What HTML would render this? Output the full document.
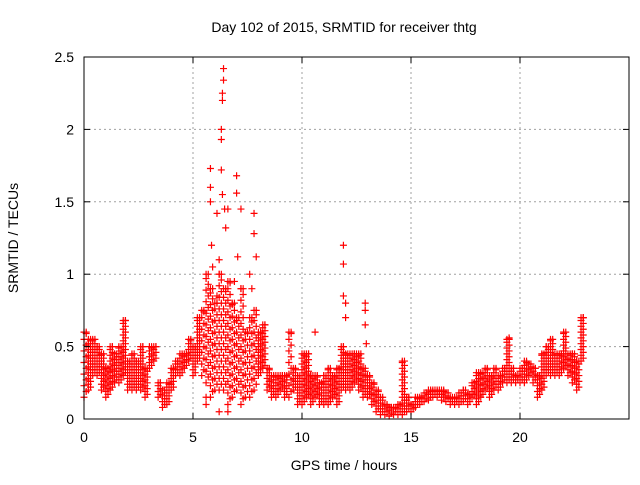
<!DOCTYPE html>
<html><head><meta charset="utf-8"><style>
body{margin:0;background:#fff}
svg{font-family:"Liberation Sans",sans-serif;font-size:14px}
</style></head><body>
<svg width="640" height="480" id="chart">
<text x="344" y="32" text-anchor="middle">Day 102 of 2015, SRMTID for receiver thtg</text>
<text x="344" y="470" text-anchor="middle">GPS time / hours</text>
<text transform="translate(18,238) rotate(-90)" text-anchor="middle">SRMTID / TECUs</text>
<g id="grid"></g><g id="marks"></g><g id="axes"></g>
</svg>
<script>
const times=[0,0.2,0.4,0.6,0.8,1.0,1.2,1.4,1.6,1.8,2.0,2.2,2.4,2.6,2.8,3.0,3.2,3.4,3.6,3.8,4.0,4.2,4.4,4.6,4.8,5.0,5.2,5.4,5.6,5.8,6.0,6.2,6.4,6.6,6.8,7.0,7.2,7.4,7.6,7.8,8.0,8.2,8.4,8.6,8.8,9.0,9.2,9.4,9.6,9.8,10.0,10.2,10.4,10.6,10.8,11.0,11.2,11.4,11.6,11.8,12.0,12.2,12.4,12.6,12.8,13.0,13.2,13.4,13.6,13.8,14.0,14.2,14.4,14.6,14.8,15.0,15.2,15.4,15.6,15.8,16.0,16.2,16.4,16.6,16.8,17.0,17.2,17.4,17.6,17.8,18.0,18.2,18.4,18.6,18.8,19.0,19.2,19.4,19.6,19.8,20.0,20.2,20.4,20.6,20.8,21.0,21.2,21.4,21.6,21.8,22.0,22.2,22.4,22.6,22.8];
const lowVals=[0.15,0.2,0.3,0.3,0.2,0.15,0.2,0.25,0.25,0.3,0.2,0.2,0.2,0.2,0.15,0.35,0.4,0.15,0.08,0.1,0.2,0.3,0.3,0.35,0.4,0.3,0.4,0.3,0.25,0.15,0.2,0.2,0.2,0.1,0.15,0.2,0.1,0.15,0.15,0.2,0.3,0.35,0.2,0.15,0.15,0.2,0.15,0.15,0.2,0.1,0.1,0.15,0.1,0.15,0.1,0.1,0.1,0.15,0.1,0.2,0.2,0.2,0.25,0.2,0.15,0.15,0.1,0.05,0.03,0.03,0.02,0.03,0.03,0.03,0.05,0.05,0.08,0.1,0.12,0.13,0.15,0.15,0.13,0.12,0.1,0.1,0.1,0.12,0.1,0.15,0.1,0.15,0.2,0.15,0.2,0.2,0.25,0.25,0.25,0.25,0.25,0.25,0.3,0.25,0.15,0.2,0.3,0.3,0.3,0.3,0.35,0.3,0.25,0.2,0.4];
const highVals=[0.6,0.55,0.55,0.5,0.45,0.35,0.5,0.45,0.5,0.68,0.4,0.45,0.4,0.5,0.35,0.5,0.5,0.25,0.2,0.25,0.35,0.4,0.45,0.45,0.55,0.5,0.7,0.75,1.0,0.9,0.8,1.0,0.9,0.95,0.8,0.7,0.9,0.6,0.7,0.75,0.6,0.65,0.35,0.3,0.3,0.3,0.3,0.6,0.35,0.3,0.45,0.45,0.3,0.3,0.25,0.3,0.35,0.3,0.35,0.5,0.45,0.45,0.45,0.45,0.35,0.3,0.25,0.2,0.15,0.1,0.08,0.08,0.1,0.4,0.15,0.1,0.15,0.15,0.18,0.2,0.2,0.2,0.2,0.18,0.15,0.15,0.18,0.2,0.17,0.25,0.32,0.32,0.35,0.3,0.35,0.3,0.35,0.55,0.35,0.3,0.35,0.4,0.38,0.35,0.3,0.45,0.5,0.55,0.45,0.45,0.6,0.45,0.45,0.4,0.7];
const spikeTimes=[5.8,5.8,5.8,5.85,5.9,6.2,6.3,6.3,6.35,6.35,6.4,6.4,6.3,6.35,6.5,6.45,6.6,7.0,7.0,7.2,7.05,7.8,7.8,7.9,6.1,6.1,11.9,11.9,11.9,12.0,12.0,12.9,12.9,12.9,12.95,10.6,19.5,22.9,7.6,7.7,6.9,5.6,5.6,6.2,6.6];
const spikeVals=[1.73,1.6,1.5,1.2,1.05,1.1,1.93,2.0,2.2,2.25,2.34,2.42,1.72,1.55,1.32,1.45,1.45,1.68,1.56,1.45,1.12,1.42,1.28,1.12,1.42,0.85,1.2,1.07,0.85,0.8,0.7,0.8,0.75,0.65,0.52,0.6,0.56,0.7,1.0,0.9,0.95,0.1,0.15,0.05,0.05];
const xTicks=[0,5,10,15,20];
const yTicks=[0,0.5,1,1.5,2,2.5];
const yTickLabels=["0","0.5","1","1.5","2","2.5"];
const L=84,R=629,T=57,B=419,XMAX=25,YMAX=2.5;
const xs=t=>L+t/XMAX*(R-L), ys=v=>B-v/YMAX*(B-T);
const NS='http://www.w3.org/2000/svg';
function mk(tag,attrs,parent){const e=document.createElementNS(NS,tag);for(const k in attrs)e.setAttribute(k,attrs[k]);parent.appendChild(e);return e;}
const grid=document.getElementById('grid'),marks=document.getElementById('marks'),axes=document.getElementById('axes');
xTicks.forEach(t=>{const x=xs(t);
 if(t>0){const g=mk('line',{x1:x,x2:x,y1:T,y2:B,stroke:'#a0a0a0','stroke-dasharray':'2,3'},grid);
 
 }
 mk('line',{x1:x,x2:x,y1:B,y2:B-6,stroke:'#000'},axes);mk('line',{x1:x,x2:x,y1:T,y2:T+6,stroke:'#000'},axes);
 const lb=mk('text',{x:x,y:B+23,'text-anchor':'middle'},axes);lb.textContent=t;
 
 });
yTicks.forEach((v,i)=>{const y=ys(v);
 if(v>0&&v<YMAX){const g=mk('line',{x1:L,x2:R,y1:y,y2:y,stroke:'#a0a0a0','stroke-dasharray':'2,3'},grid);
 
 }
 mk('line',{x1:L,x2:L+6,y1:y,y2:y,stroke:'#000'},axes);mk('line',{x1:R,x2:R-6,y1:y,y2:y,stroke:'#000'},axes);
 const lb=mk('text',{x:L-10,y:y+5,'text-anchor':'end'},axes);lb.textContent=yTickLabels[i];
 
 });
const frame=mk('rect',{x:L,y:T,width:R-L,height:B-T,fill:'none',stroke:'#000'},axes);


function plus(t,v){const x=xs(t),y=ys(v);
 const p=mk('path',{d:`M${x-3.5},${y}h7M${x},${y-3.5}v7`,stroke:'#f00','stroke-width':1.2,fill:'none'},marks);
 
 }
times.forEach((t,i)=>{const lo=lowVals[i],hi=highVals[i];
 const step=(hi-lo)>0.4?0.08:0.04;
 [0,0.1].forEach((dt,k)=>{for(let v=lo+k*step/2;v<=hi+1e-6;v+=step)plus(t+dt,v);plus(t+dt,hi);});});
spikeTimes.forEach((t,i)=>plus(t,spikeVals[i]));
</script>
</body></html>
